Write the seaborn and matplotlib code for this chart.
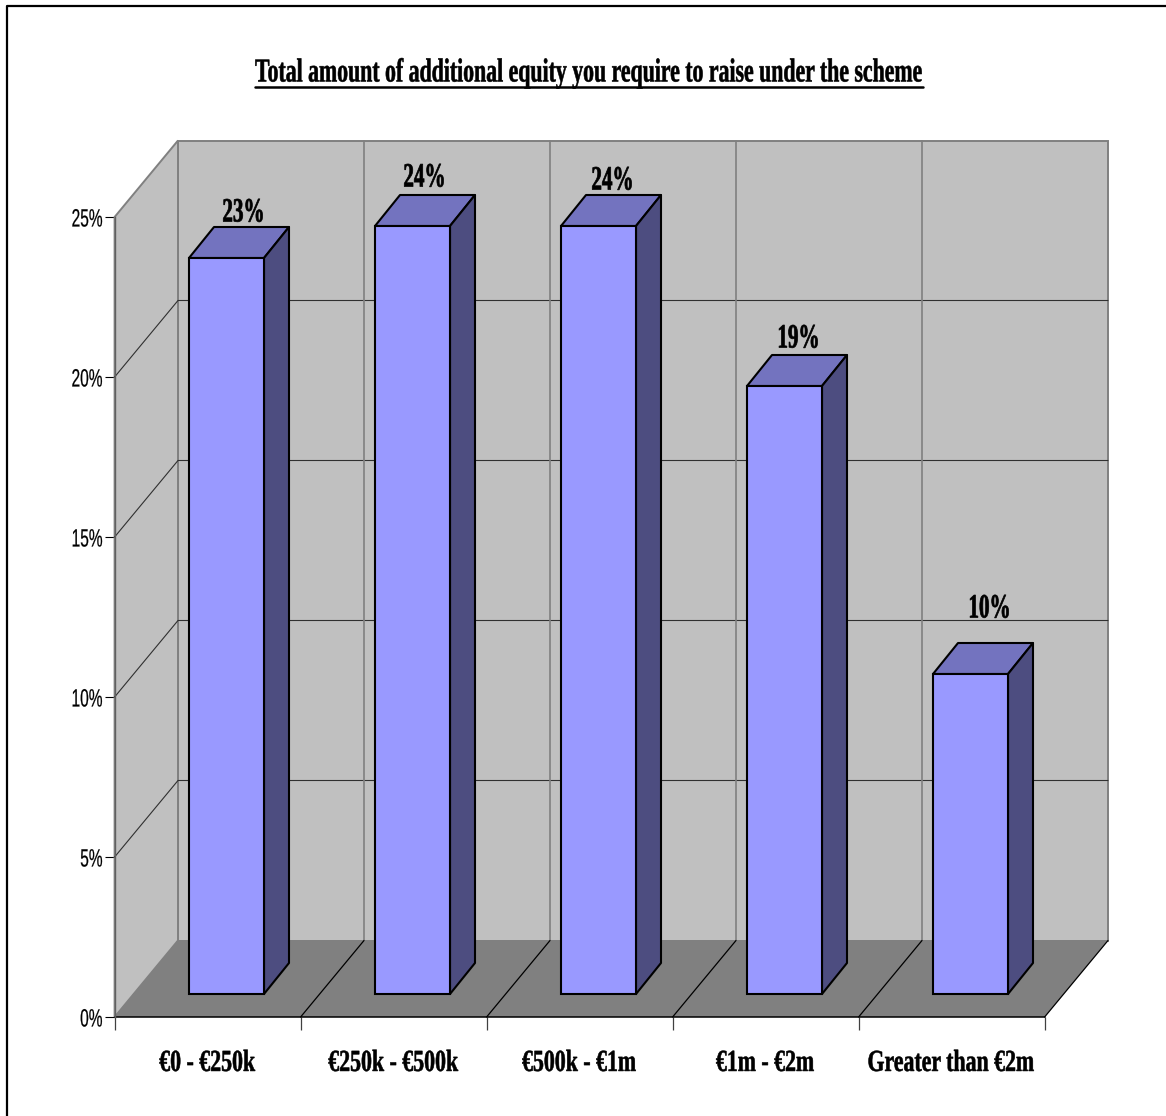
import matplotlib
matplotlib.use("Agg")
import matplotlib.pyplot as plt
from matplotlib.lines import Line2D
from matplotlib.patches import Polygon
from matplotlib.patheffects import AbstractPathEffect
from matplotlib.transforms import Affine2D
import seaborn as sns

categories = ["€0 - €250k", "€250k - €500k", "€500k - €1m", "€1m - €2m", "Greater than €2m"]
values = [23, 24, 24, 19, 10]
y_ticks = [0, 5, 10, 15, 20, 25]
y_tick_labels = ["0%", "5%", "10%", "15%", "20%", "25%"]
title = "Total amount of additional equity you require to raise under the scheme"

W, H = 1166, 1116
PX_CAT, PX_PCT = 186.0, 32.0
X0, Y0 = 114.6, 1017.0
DX, DY = 63.4 / PX_CAT, 76.5 / PX_PCT        # wall depth in data units
BDX, BDY = 25 / PX_CAT, 31 / PX_PCT          # bar depth in data units

WALL, FLOOR, GRID, EDGE = "#C0C0C0", "#808080", "#303030", "#808080"
FRONT, TOP, SIDE = "#9999FF", "#7373BF", "#4D4D80"

sns.set_theme(style="white")
SERIF = ["Liberation Serif", "DejaVu Serif"]
SANS = ["Liberation Sans", "DejaVu Sans"]


class Squeeze(AbstractPathEffect):
    """Draw a text narrower than its font, as the reference's condensed type."""
    def __init__(self, sx, width, align, stroke=0.0, shift=0.0):
        super().__init__()
        self.sx, self.width, self.align = sx, width, align
        self.stroke, self.shift = stroke, shift

    def draw_path(self, renderer, gc, tpath, affine, rgbFace=None):
        x0 = affine.get_matrix()[0, 2]
        pivot = x0 + self.width * self.align
        new = affine + Affine2D().translate(-pivot, 0).scale(self.sx, 1).translate(pivot + self.shift, 0)
        gc0 = renderer.new_gc()
        gc0.copy_properties(gc)
        gc0.set_linewidth(self.stroke)
        gc0.set_foreground("black")
        renderer.draw_path(gc0, tpath, new, rgbFace)
        gc0.restore()


fig = plt.figure(figsize=(W / 100, H / 100), dpi=100, facecolor="white")
renderer = fig.canvas.get_renderer()


def squeeze(t, sx, align, stroke=0.0, shift=0.0):
    t.set_path_effects([Squeeze(sx, t.get_window_extent(renderer).width, align, stroke, shift)])


xlim = (-0.5 - X0 / PX_CAT, -0.5 + (W - X0) / PX_CAT)
ylim = ((Y0 - H) / PX_PCT, Y0 / PX_PCT)

# ---- chart box: walls, floor, grid, axis
ax = fig.add_axes([0, 0, 1, 1], facecolor="none")
ax.set_xlim(xlim)
ax.set_ylim(ylim)
n = len(categories)
xl, xr = -0.5, n - 0.5
top = y_ticks[-1]

ax.add_patch(Polygon([(xl + DX, DY), (xr + DX, DY), (xr + DX, top + DY), (xl + DX, top + DY)],
                     fc=WALL, ec=EDGE, lw=1.4, zorder=1))
ax.add_patch(Polygon([(xl, 0), (xl + DX, DY), (xl + DX, top + DY), (xl, top)],
                     fc=WALL, ec=EDGE, lw=1.4, zorder=1))
ax.add_patch(Polygon([(xl, 0), (xr, 0), (xr + DX, DY), (xl + DX, DY)],
                     fc=FLOOR, ec="none", zorder=1.5))
for v in y_ticks[1:-1]:
    ax.plot([xl, xl + DX, xr + DX], [v, v + DY, v + DY], color=GRID, lw=0.8, zorder=2)
for i in range(n + 1):
    x = xl + i
    if 0 < i < n:
        ax.plot([x + DX, x + DX], [DY, top + DY], color=EDGE, lw=1.2, zorder=2)
    if i > 0:
        ax.plot([x, x + DX], [0, DY], color="black", lw=0.9, zorder=2)
ax.plot([xl, xr], [0, 0], color="black", lw=1.1, zorder=2.5)

for name in ("top", "right"):
    ax.spines[name].set_visible(False)
ax.spines["left"].set_position(("data", xl))
ax.spines["left"].set_bounds(0, top)
ax.spines["left"].set_color("#606060")
ax.spines["left"].set_linewidth(1.0)
ax.spines["bottom"].set_position(("data", 0))
ax.spines["bottom"].set_alpha(0)

ax.set_yticks(y_ticks, y_tick_labels, family=SANS, fontsize=18, color="black")
ax.tick_params(axis="y", length=7.2, width=0.8, color="black", pad=1.5, left=True)
ax.set_xticks(range(n), categories, family=SERIF, fontsize=22, fontweight="bold", color="black")
ax.set_xticks([xl + i for i in range(n + 1)], minor=True)
ax.tick_params(axis="x", which="major", length=0, pad=23, bottom=True)
ax.tick_params(axis="x", which="minor", length=9.4, width=0.9, color="#404040", bottom=True)
ax.grid(False)

# ---- bars: forward-plane axes drawn by seaborn, nudged up and right of the box
bar_ax = fig.add_axes([18.9 / W, 23 / H, 1, 1], facecolor="none")
sns.barplot(x=categories, y=values, order=categories, ax=bar_ax, color=FRONT, saturation=1,
            width=75 / PX_CAT, edgecolor="black", linewidth=1.5, zorder=3)
bar_ax.set_xlim(xlim)
bar_ax.set_ylim(ylim)
bar_ax.axis("off")
for p in bar_ax.patches[:n]:
    a, b = p.get_x(), p.get_x() + p.get_width()
    h = p.get_height()
    bar_ax.add_patch(Polygon([(a, h), (b, h), (b + BDX, h + BDY), (a + BDX, h + BDY)],
                             fc=TOP, ec="black", lw=1.5, joinstyle="round", zorder=2.9))
    bar_ax.add_patch(Polygon([(b, 0), (b + BDX, BDY), (b + BDX, h + BDY), (b, h)],
                             fc=SIDE, ec="black", lw=1.5, joinstyle="round", zorder=2.9))

label_dx = [17, 12, 14, 14, 19]             # px from bar centre
label_dy = [45, 48, 45, 47, 65]             # px above front top edge
for i, v in enumerate(values):
    t = bar_ax.annotate(f"{v}%", xy=(i, v),
                        xytext=(label_dx[i] * 0.72, label_dy[i] * 0.72), textcoords="offset points",
                        ha="center", va="center", family=SERIF, fontsize=24.5,
                        fontweight="bold", color="black", zorder=5)
    squeeze(t, 0.62, 0.5, stroke=0.5)

# ---- title with underline
t = fig.text(589 / W, 1 - 73 / H, title, ha="center", va="center", family=SERIF,
             fontsize=24, fontweight="bold", color="black")
tw = t.get_window_extent(renderer).width
squeeze(t, 668 / tw, 0.5, stroke=0.4)
fig.add_artist(Line2D([255 / W, 923 / W], [1 - 86.5 / H] * 2, color="black", lw=1.8))

# ---- outer frame (left and top only are in view)
fig.add_artist(Line2D([7 / W, 7 / W, 1], [0, 1 - 6 / H, 1 - 6 / H], color="black", lw=1.6))

fig.canvas.draw()
for lab in ax.get_xticklabels():
    squeeze(lab, 0.715, 0.5, stroke=0.4, shift=-0.6)
for lab in ax.get_yticklabels():
    squeeze(lab, 0.62, 1.0, stroke=0.15)

fig.savefig("out.png", dpi=100, facecolor="white")
